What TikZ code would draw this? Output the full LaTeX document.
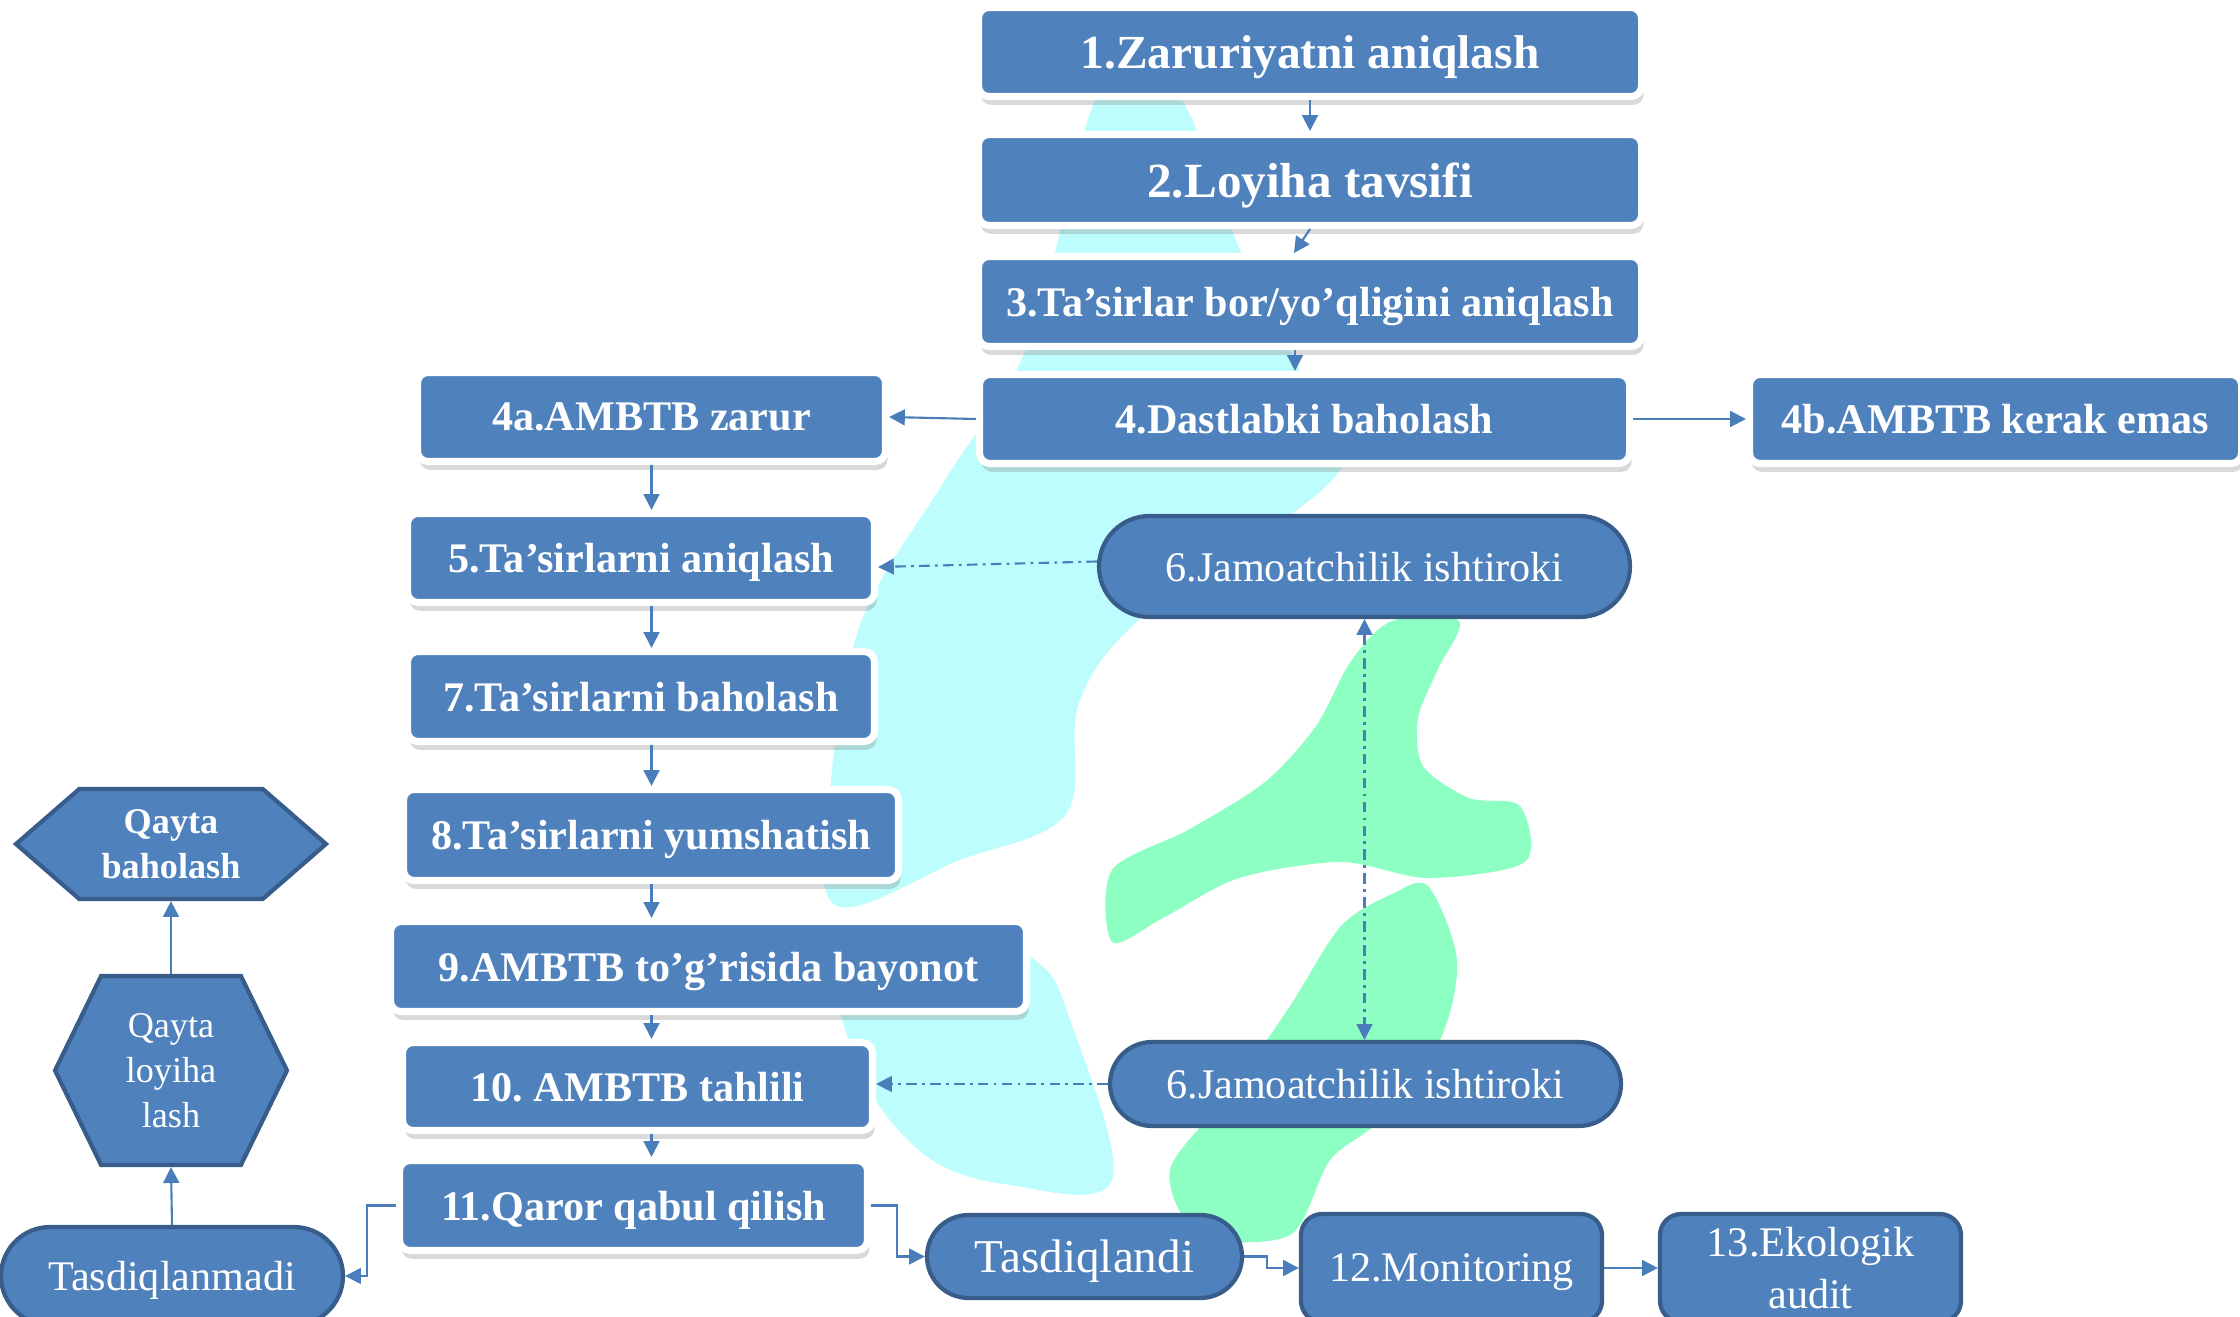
\documentclass[tikz,border=0pt]{standalone}
\usepackage{fontspec}
\setmainfont{Liberation Serif}
\frenchspacing
\usetikzlibrary{shapes.misc,shapes.symbols,shadows,arrows.meta}
\definecolor{boxblue}{HTML}{4F81BD}
\definecolor{edgeblue}{HTML}{385D8A}
\definecolor{linkblue}{HTML}{4A7EBB}
\definecolor{wmcyan}{RGB}{190,253,253}
\definecolor{wmgreen}{RGB}{142,255,194}
\begin{document}
\begin{tikzpicture}[
    flow/.style={draw=white, line width=2pt, fill=boxblue, rounded corners=3pt, text=white, align=center, inner sep=0pt, text depth=0pt, font=\bfseries\fontsize{12}{14}\selectfont, drop shadow={shadow xshift=0.6pt, shadow yshift=-2.4pt, opacity=0.3}},
    oval/.style={rounded rectangle, draw=edgeblue, line width=1.2pt, fill=boxblue, text=white, align=center, inner sep=0pt, text depth=0pt, font=\fontsize{12}{14}\selectfont},
    card/.style={draw=edgeblue, line width=1.2pt, fill=boxblue, rounded corners=6pt, text=white, align=center, inner sep=0pt, font=\fontsize{12}{15}\selectfont},
    hexa/.style={signal, signal to=west and east, draw=edgeblue, line width=1.2pt, fill=boxblue, text=white, align=center, inner sep=0pt},
    arrow/.style={->, >={Triangle[width=4.5pt, length=4.5pt]}, draw=linkblue, line width=0.6pt},
    talk/.style={arrow, dash pattern=on 3pt off 1.5pt on 0.8pt off 1.5pt}
]
\useasboundingbox (0,0) rectangle (22.4,-13.17);

% watermark
\fill[wmcyan] plot[smooth cycle, tension=0.6] coordinates {(11.0,-0.9) (11.75,-0.9) (12.4,-2.5) (13.0,-3.7) (13.4,-4.7) (11.5,-6.1) (10.8,-7.0) (10.66,-8.14) (9.6,-8.6) (8.35,-9.05) (8.31,-7.8) (8.62,-6.2) (9.45,-4.8) (10.3,-3.4)};
\fill[wmcyan] plot[smooth cycle, tension=0.6] coordinates {(8.35,-9.4) (9.4,-9.2) (10.35,-9.6) (10.7,-10.2) (11.12,-11.8) (10.1,-11.85) (9.25,-11.55) (8.6,-10.7)};
\fill[wmgreen] plot[smooth cycle, tension=0.5] coordinates {(13.92,-6.21) (14.59,-6.21) (14.38,-6.69) (14.18,-7.18) (14.23,-7.66) (14.69,-7.98) (15.2,-8.06) (15.25,-8.62) (14.28,-8.78) (13.41,-8.62) (12.39,-8.78) (11.63,-9.18) (11.12,-9.42) (11.12,-8.7) (11.88,-8.3) (12.65,-7.82) (13.16,-7.26) (13.51,-6.61)};
\fill[wmgreen] plot[smooth cycle, tension=0.5] coordinates {(13.92,-8.94) (14.28,-8.86) (14.57,-9.6) (14.4,-10.4) (13.8,-11.2) (13.3,-11.6) (12.9,-12.35) (12.0,-12.35) (11.7,-11.7) (12.29,-10.94) (12.9,-10.06) (13.41,-9.26)};

% screening
\node[flow, minimum width=6.63cm, minimum height=0.89cm, font=\bfseries\fontsize{13.5}{15}\selectfont] (need_box) at (13.10,-0.52) {1.Zaruriyatni aniqlash};
\node[flow, minimum width=6.63cm, minimum height=0.91cm, font=\bfseries\fontsize{14}{16}\selectfont] (desc_box) at (13.10,-1.80) {2.Loyiha tavsifi};
\node[flow, minimum width=6.63cm, minimum height=0.90cm] (ident_box) at (13.10,-3.015) {3.Ta’sirlar bor/yo’qligini aniqlash};
\node[flow, minimum width=6.50cm, minimum height=0.89cm] (prelim_box) at (13.045,-4.19) {4.Dastlabki baholash};
\node[flow, minimum width=4.68cm, minimum height=0.89cm] (need_yes) at (6.515,-4.17) {4a.AMBTB zarur};
\node[flow, minimum width=4.92cm, minimum height=0.89cm] (need_no) at (19.955,-4.19) {4b.AMBTB kerak emas};

% assessment
\node[flow, minimum width=4.67cm, minimum height=0.89cm] (find_box) at (6.41,-5.58) {5.Ta’sirlarni aniqlash};
\node[flow, minimum width=4.67cm, minimum height=0.90cm] (rate_box) at (6.41,-6.965) {7.Ta’sirlarni baholash};
\node[flow, minimum width=4.95cm, minimum height=0.91cm] (soft_box) at (6.51,-8.35) {8.Ta’sirlarni yumshatish};
\node[flow, minimum width=6.36cm, minimum height=0.90cm] (state_box) at (7.085,-9.665) {9.AMBTB to’g’risida bayonot};
\node[flow, minimum width=4.70cm, minimum height=0.88cm] (review_box) at (6.375,-10.865) {10. AMBTB tahlili};
\node[flow, minimum width=4.68cm, minimum height=0.90cm] (decide_box) at (6.335,-12.055) {11.Qaror qabul qilish};

% public participation
\node[oval, minimum width=5.31cm, minimum height=1.01cm] (public_top) at (13.645,-5.665) {6.Jamoatchilik ishtiroki};
\node[oval, minimum width=5.11cm, minimum height=0.84cm] (public_bot) at (13.655,-10.84) {6.Jamoatchilik ishtiroki};

% decision
\node[oval, minimum width=3.15cm, minimum height=0.83cm, font=\fontsize{13.4}{15}\selectfont] (approved) at (10.845,-12.565) {Tasdiqlandi};
\node[oval, minimum width=3.42cm, minimum height=0.98cm] (rejected) at (1.72,-12.76) {Tasdiqlanmadi};
\node[card, minimum width=3.01cm, minimum height=1.08cm, text depth=0pt] (monitor_box) at (14.515,-12.68) {12.Monitoring};
\node[card, minimum width=3.01cm, minimum height=1.08cm] (audit_box) at (18.105,-12.68) {13.Ekologik\\audit};
\node[hexa, signal pointer angle=128, minimum width=2.32cm, minimum height=1.89cm, font=\fontsize{10.3}{12.8}\selectfont] (redesign) at (1.71,-10.705) {Qayta\\loyiha\\lash};
\node[hexa, signal pointer angle=82, minimum width=3.10cm, minimum height=1.10cm, font=\bfseries\fontsize{10.3}{12.8}\selectfont] (reassess) at (1.71,-8.44) {Qayta\\baholash};

% connectors
\draw[arrow] (need_box.south) -- (desc_box.north);
\draw[arrow] (desc_box.south) -- ([xshift=-0.16cm]ident_box.north);
\draw[arrow] ([xshift=-0.15cm]ident_box.south) -- ([xshift=-0.15cm]ident_box.south |- prelim_box.north);
\draw[arrow] (prelim_box.west) -- (need_yes.east);
\draw[arrow] (prelim_box.east) -- (need_no.west);
\draw[arrow] (need_yes.south) -- (need_yes.south |- find_box.north);
\draw[arrow] (find_box.south -| need_yes.south) -- (rate_box.north -| need_yes.south);
\draw[arrow] (rate_box.south -| need_yes.south) -- (soft_box.north -| need_yes.south);
\draw[arrow] (soft_box.south -| need_yes.south) -- (state_box.north -| need_yes.south);
\draw[arrow] (state_box.south -| need_yes.south) -- (review_box.north -| need_yes.south);
\draw[arrow] (review_box.south -| need_yes.south) -- (decide_box.north -| need_yes.south);
\draw[talk] ([yshift=0.05cm]public_top.west) -- ([yshift=-0.09cm]find_box.east);
\draw[talk, <->] (public_top.south) -- (public_top.south |- public_bot.north);
\draw[talk] (public_bot.west) -- (public_bot.west -| review_box.east);
\draw[arrow] (decide_box.east) -- ([xshift=0.26cm]decide_box.east) |- (approved.west);
\draw[arrow] (decide_box.west) -- ([xshift=-0.29cm]decide_box.west) |- (rejected.east);
\draw[arrow] (approved.east) -- ([xshift=0.23cm]approved.east) |- (monitor_box.west);
\draw[arrow] (monitor_box.east) -- (audit_box.west);
\draw[arrow] (rejected.north) -- (redesign.south);
\draw[arrow] (redesign.north) -- (reassess.south);
\end{tikzpicture}
\end{document}
